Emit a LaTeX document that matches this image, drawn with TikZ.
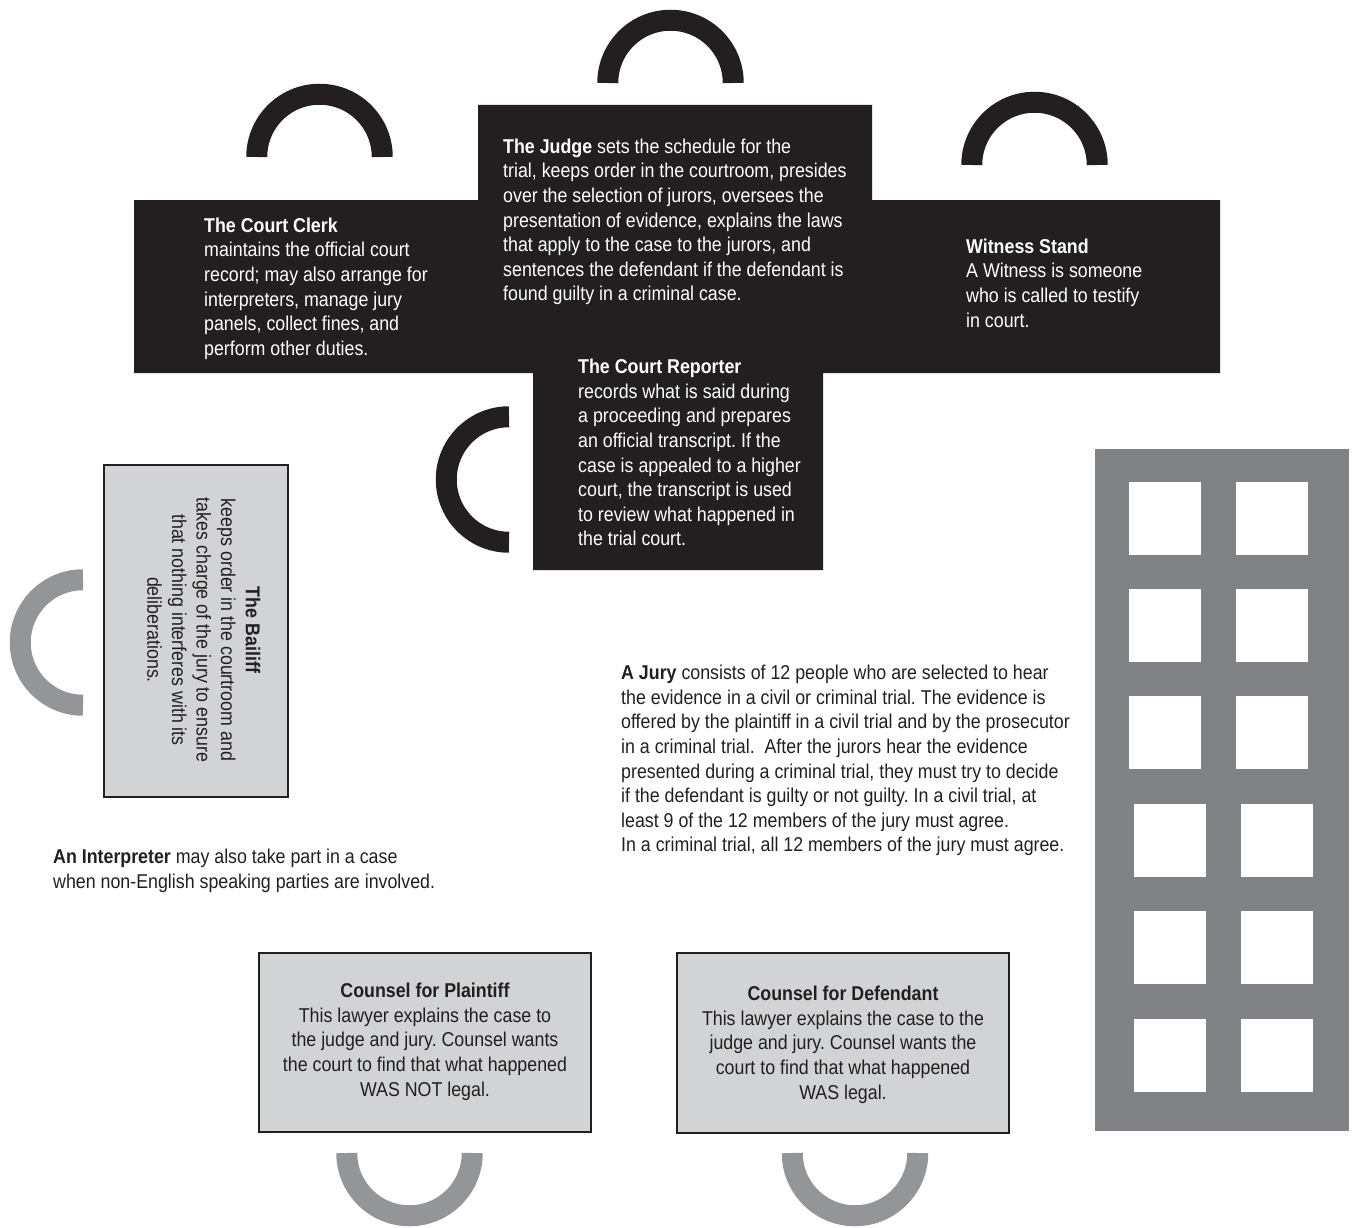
\documentclass[tikz,border=0pt]{standalone}
\usepackage{fontspec}
\setmainfont{Liberation Sans}[FakeStretch=0.89]
\definecolor{ink}{HTML}{231F20}
\definecolor{seatgray}{HTML}{939598}
\definecolor{jurygray}{HTML}{808285}
\definecolor{boxgray}{HTML}{D1D3D4}
\begin{document}
\begin{tikzpicture}[x=1pt,y=-1pt,
  txt/.style={inner sep=0pt, anchor=north west, align=left, font=\fontsize{20}{24.6}\selectfont\frenchspacing},
  ctxt/.style={inner sep=0pt, anchor=north, align=center, font=\fontsize{20}{24.6}\selectfont\frenchspacing, text=ink},
  darkseat/.style={draw=ink, line width=21pt},
  lightseat/.style={draw=seatgray, line width=21pt},
  greybox/.style={fill=boxgray, draw=ink, line width=2pt}
]
\useasboundingbox (0,0) rectangle (1352,1228);
\def\sr{62.75}
% black bench shape
\fill[ink] (134,200) -- (478,200) -- (478,105) -- (872,105) -- (872,200) -- (1220,200)
  -- (1220,373) -- (823,373) -- (823,570) -- (533,570) -- (533,373) -- (134,373) -- cycle;
% dark seats
\draw[darkseat] (319.5+\sr,157) arc[start angle=0, end angle=-180, radius=\sr];
\draw[darkseat] (670.5+\sr,83) arc[start angle=0, end angle=-180, radius=\sr];
\draw[darkseat] (1034.5+\sr,165) arc[start angle=0, end angle=-180, radius=\sr];
\draw[darkseat] (509,479.5-\sr) arc[start angle=-90, end angle=-270, radius=\sr];
% light seats
\draw[lightseat] (83,642.5-\sr) arc[start angle=-90, end angle=-270, radius=\sr];
\draw[lightseat] (409.5+\sr,1153) arc[start angle=0, end angle=180, radius=\sr];
\draw[lightseat] (855+\sr,1153) arc[start angle=0, end angle=180, radius=\sr];
% grey boxes
\draw[greybox] (104,465) rectangle (288,797);
\draw[greybox] (259,953) rectangle (591,1132);
\draw[greybox] (677,953) rectangle (1009,1133);
% jury box
\fill[jurygray] (1095,449) rectangle (1349,1131);
\foreach \y in {482,589,696} {
  \fill[white] (1129,\y) rectangle ++(72,72.5);
  \fill[white] (1236,\y) rectangle ++(72,72.5);
}
\foreach \y in {804,911,1019} {
  \fill[white] (1134,\y) rectangle ++(72,72.5);
  \fill[white] (1241,\y) rectangle ++(72,72.5);
}
% texts
\node[txt, text=white] (clerk) at (204,217) {\rule{0pt}{15pt}\textbf{The Court Clerk}\\
maintains the official court\\
record; may also arrange for\\
interpreters, manage jury\\
panels, collect fines, and\\
perform other duties.};
\node[txt, text=white] (judge) at (503,138) {\rule{0pt}{15pt}\textbf{The Judge} sets the schedule for the\\
trial, keeps order in the courtroom, presides\\
over the selection of jurors, oversees the\\
presentation of evidence, explains the laws\\
that apply to the case to the jurors, and\\
sentences the defendant if the defendant is\\
found guilty in a criminal case.};
\node[txt, text=white] (witness) at (966,238) {\rule{0pt}{15pt}\textbf{Witness Stand}\\
A Witness is someone\\
who is called to testify\\
in court.};
\node[txt, text=white] (reporter) at (578,358.5) {\rule{0pt}{15pt}\textbf{The Court Reporter}\\
records what is said during\\
a proceeding and prepares\\
an official transcript. If the\\
case is appealed to a higher\\
court, the transcript is used\\
to review what happened in\\
the trial court.};
\node[ctxt, rotate=-90] (bailiff) at (261,630) {\rule{0pt}{15pt}\textbf{The Bailiff}\\
keeps order in the courtroom and\\
takes charge of the jury to ensure\\
that nothing interferes with its\\
deliberations.};
\node[txt, text=ink] (interp) at (53,848.5) {\rule{0pt}{15pt}\textbf{An Interpreter} may also take part in a case\\
when non-English speaking parties are involved.};
\node[txt, text=ink] (jury) at (621,664.5) {\rule{0pt}{15pt}\textbf{A Jury} consists of 12 people who are selected to hear\\
the evidence in a civil or criminal trial. The evidence is\\
offered by the plaintiff in a civil trial and by the prosecutor\\
in a criminal trial.\ \ After the jurors hear the evidence\\
presented during a criminal trial, they must try to decide\\
if the defendant is guilty or not guilty. In a civil trial, at\\
least 9 of the 12 members of the jury must agree.\\
In a criminal trial, all 12 members of the jury must agree.};
\node[ctxt] (plaintiff) at (425,982.5) {\rule{0pt}{15pt}\textbf{Counsel for Plaintiff}\\
This lawyer explains the case to\\
the judge and jury. Counsel wants\\
the court to find that what happened\\
WAS NOT legal.};
\node[ctxt] (defendant) at (843,985.5) {\rule{0pt}{15pt}\textbf{Counsel for Defendant}\\
This lawyer explains the case to the\\
judge and jury. Counsel wants the\\
court to find that what happened\\
WAS legal.};
\end{tikzpicture}
\end{document}
